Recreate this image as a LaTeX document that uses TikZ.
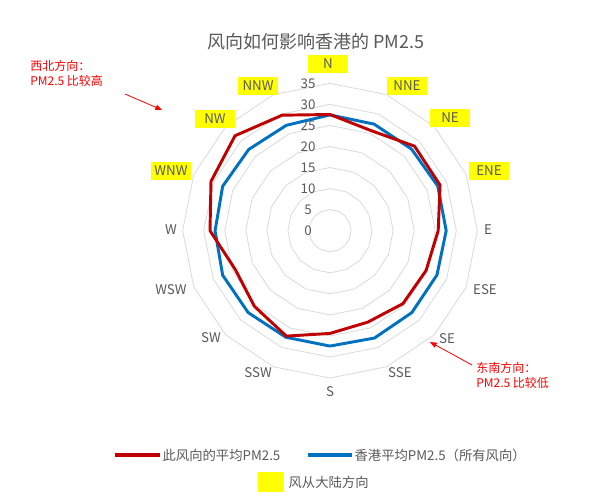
\documentclass[tikz,border=0pt]{standalone}
\usepackage{fontspec}
\setmainfont{Noto Sans CJK SC}
\usetikzlibrary{arrows.meta}
\definecolor{txt}{HTML}{595959}
\definecolor{grid}{HTML}{D9D9D9}
\definecolor{redl}{HTML}{C00000}
\definecolor{bluel}{HTML}{0070C0}
\definecolor{hl}{HTML}{FFFF00}
\tikzset{
 axlab/.style={text=txt,font=\fontsize{10}{10}\selectfont,inner sep=1pt},
 hlab/.style={axlab,fill=hl,minimum width=30pt,minimum height=13pt},
 tick/.style={text=txt,font=\fontsize{10}{10}\selectfont,inner sep=0pt},
 ring/.style={draw=grid,line width=0.6pt},
 series/.style={line width=2.2pt,line join=round},
 note/.style={text=red,font=\fontsize{9}{11}\selectfont,align=left,inner sep=0pt},
 notearrow/.style={red,line width=0.6pt,-{Triangle[length=5pt,width=4pt]}},
}
\begin{document}
\begin{tikzpicture}[x=0.75pt,y=-0.75pt]
\useasboundingbox (0,0) rectangle (600,503);
\coordinate (c) at (330,230.7);
\def\u{4.21}
% rings
\foreach \r in {5,10,...,35}{
 \draw[ring] plot[samples=17,domain=0:16,variable=\k] ({330+\r*\u*sin(22.5*\k)},{230.7-\r*\u*cos(22.5*\k)});
}
% ticks
\foreach \r in {0,5,...,35}{
 \node[tick] (t\r) at (308,{230.7-\r*\u}) {\r};
}
% data
\def\red{27.6,25.7,28.4,28.3,25.7,24.7,24.5,23.5,24.4,27.1,25.4,24.3,28.5,30.6,31.9,29.7}
\def\blue{27.5,27.4,27.4,27.7,27.6,27.5,27.5,27.6,27.4,27.4,27.5,27.6,27.3,27.6,27.3,27.1}
\foreach \v [count=\i from 0] in \blue {\coordinate (b\i) at ({330+\v*\u*sin(22.5*\i)},{230.7-\v*\u*cos(22.5*\i)});}
\foreach \v [count=\i from 0] in \red {\coordinate (r\i) at ({330+\v*\u*sin(22.5*\i)},{230.7-\v*\u*cos(22.5*\i)});}
\draw[series,bluel] (b0)--(b1)--(b2)--(b3)--(b4)--(b5)--(b6)--(b7)--(b8)--(b9)--(b10)--(b11)--(b12)--(b13)--(b14)--(b15)--cycle;
\draw[series,redl] (r0)--(r1)--(r2)--(r3)--(r4)--(r5)--(r6)--(r7)--(r8)--(r9)--(r10)--(r11)--(r12)--(r13)--(r14)--(r15)--cycle;
% axis labels
\node[hlab] (N) at (328,64) {N};
\node[hlab] (NNE) at (407,86) {NNE};
\node[hlab] (NE) at (450,118) {NE};
\node[hlab] (ENE) at (489,171) {ENE};
\node[axlab] (E) at (488,230) {E};
\node[axlab] (ESE) at (485,290) {ESE};
\node[axlab] (SE) at (447,339) {SE};
\node[axlab] (SSE) at (400,373) {SSE};
\node[axlab] (S) at (330,392) {S};
\node[axlab] (SSW) at (258,373) {SSW};
\node[axlab] (SW) at (211,338) {SW};
\node[axlab] (WSW) at (171,290) {WSW};
\node[axlab] (W) at (171,230) {W};
\node[hlab] (WNW) at (171,171) {WNW};
\node[hlab] (NW) at (215,119) {NW};
\node[hlab] (NNW) at (258,86) {NNW};
% title
\node[text=txt,font=\fontsize{13.5}{14}\selectfont] (title) at (316,42) {风向如何影响香港的 PM2.5};
% notes
\node[note,anchor=north west] (n1) at (30,60) {西北方向：\\PM2.5 比较高};
\coordinate (n1e) at (162,110);
\draw[notearrow] (125,94) -- (n1e);
\node[note,anchor=north west] (n2) at (476,362) {东南方向：\\PM2.5 比较低};
\coordinate (n2e) at (430,342);
\draw[notearrow] (472,365) -- (n2e);
% legend
\coordinate (l1a) at (115,455); \coordinate (l1b) at (160,455);
\draw[series,redl,line width=2.5pt] (l1a) -- (l1b);
\node[axlab,anchor=west] (lt1) at (161,455) {此风向的平均PM2.5};
\coordinate (l2a) at (308,455); \coordinate (l2b) at (352,455);
\draw[series,bluel,line width=2.5pt] (l2a) -- (l2b);
\node[axlab,anchor=west] (lt2) at (353,455) {香港平均PM2.5（所有风向）};
\node[fill=hl,minimum width=20pt,minimum height=15pt,inner sep=0pt] (lsq) at (271,482) {};
\node[axlab,anchor=west] (lt3) at (287,482) {风从大陆方向};
\end{tikzpicture}
\end{document}
